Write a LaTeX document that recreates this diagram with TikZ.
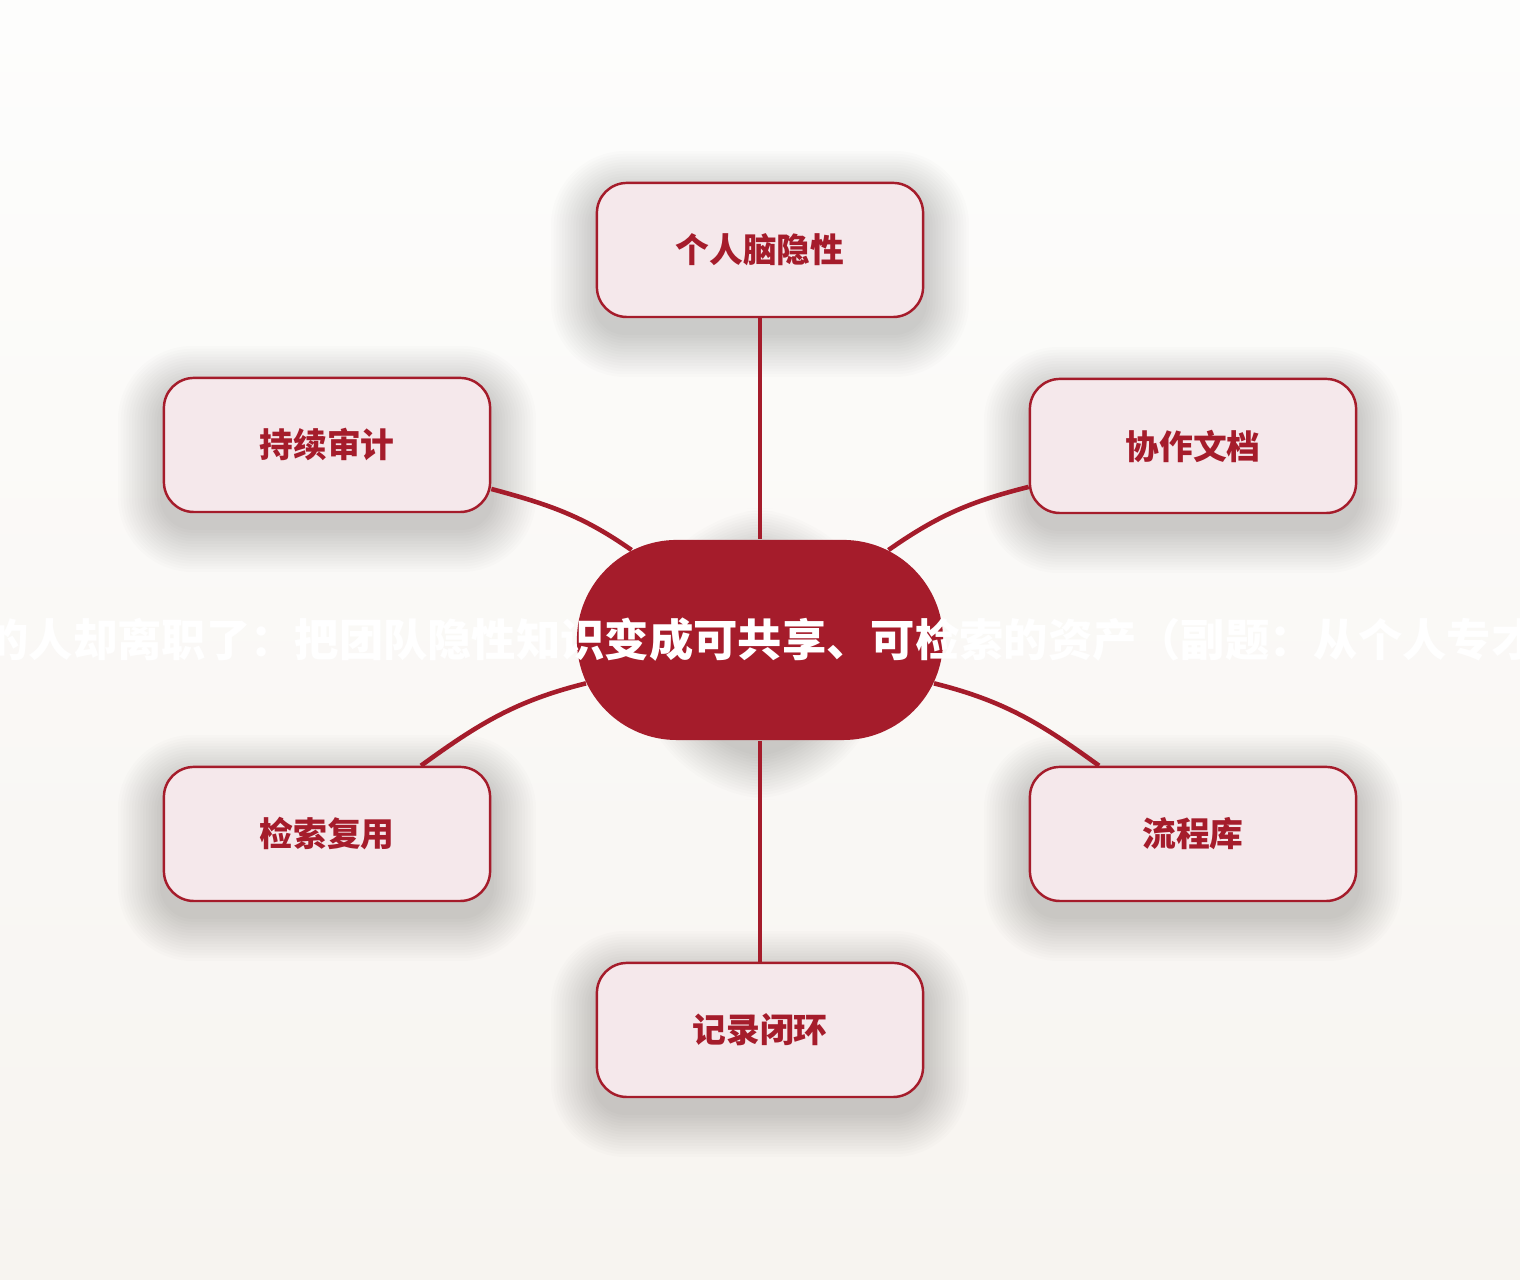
\documentclass[tikz,border=0pt]{standalone}
\usepackage{fontspec}
\setmainfont{Noto Sans CJK SC}
\usetikzlibrary{shapes.misc}
\definecolor{deepred}{HTML}{A51C2B}
\definecolor{palepink}{HTML}{F5E8EB}
\definecolor{bgtop}{HTML}{FDFDFC}
\definecolor{bgbottom}{HTML}{F7F4F0}
\pgfdeclarelayer{backdrop}
\pgfdeclarelayer{glow}
\pgfsetlayers{backdrop,glow,main}
\tikzset{
  leaf/.style={shape=rectangle, rounded corners=0.3cm, draw=deepred, line width=0.7pt,
    fill=palepink, minimum width=3.26cm, minimum height=1.34cm, text=deepred,
    font=\fontsize{9.6}{11}\selectfont\bfseries},
  hub/.style={shape=rounded rectangle, fill=deepred, minimum width=3.66cm, minimum height=2cm,
    inner sep=0pt},
  link/.style={draw=deepred, line width=1.3pt}
}
% soft shadow under a node: name, corner radius
\newcommand{\dropglow}[2]{%
  \foreach \k in {1,...,16}{
    \pgfmathsetmacro{\d}{2.8*\k}
    \fill[black, opacity=0.011, rounded corners=#2+\d*0.01cm]
      ([shift={(-\d,-\d-14)}]#1.south west) rectangle ([shift={(\d,\d-14)}]#1.north east);
  }}
\begin{document}
\begin{tikzpicture}[x=0.01cm, y=0.01cm]
    \begin{pgfonlayer}{backdrop}
      \shade[top color=bgtop, bottom color=bgbottom] (0,0) rectangle (1520,1280);
    \end{pgfonlayer}
    \useasboundingbox (0,0) rectangle (1520,1280);
    \node[hub, label={[text=white, font=\fontsize{12.6}{14}\selectfont\bfseries]center:的人却离职了：把团队隐性知识变成可共享、可检索的资产（副题：从个人专才}] (H) at (760,640) {};
    \node[leaf] (T) at (760,1030) {个人脑隐性};
    \node[leaf] (UL) at (327,835) {持续审计};
    \node[leaf] (UR) at (1193,834) {协作文档};
    \node[leaf] (LL) at (327,446) {检索复用};
    \node[leaf] (LR) at (1193,446) {流程库};
    \node[leaf] (B) at (760,250) {记录闭环};
    \begin{pgfonlayer}{glow}
      \dropglow{H}{1cm}
      \foreach \n in {T,UL,UR,LL,LR,B} {\dropglow{\n}{0.3cm}}
    \end{pgfonlayer}
    \path [link] (H) edge (T);
    \path [link] (H) edge[out=145, in=-15] (UL);
    \path [link] (H) edge[out=35, in=194] (UR);
    \path [link] (H) edge[out=194, in=36] (LL);
    \path [link] (H) edge[out=-14, in=144] (LR);
    \path [link] (H) edge (B);
\end{tikzpicture}
\end{document}
